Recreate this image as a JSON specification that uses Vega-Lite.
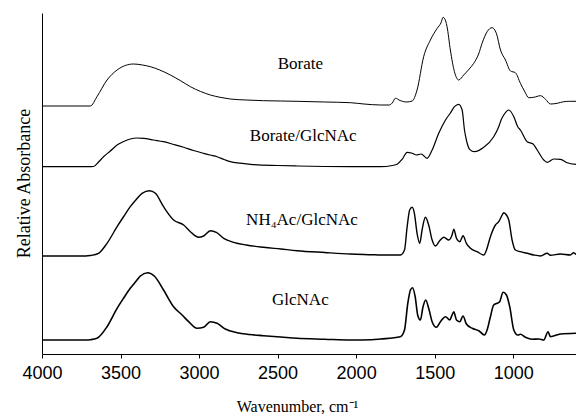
{
  "$schema": "https://vega.github.io/schema/vega-lite/v6.json",
  "width": 534,
  "height": 341,
  "autosize": {"type": "none"},
  "padding": {"left": 42, "top": 13, "right": 0, "bottom": 60},
  "background": "white",
  "config": {"view": {"stroke": null}},
  "datasets": {
    "spectra": [
      {"s":"Borate","wn":4000,"a":248},{"s":"Borate","wn":3720,"a":248},{"s":"Borate","wn":3692,"a":248},{"s":"Borate","wn":3650,"a":257.3},{"s":"Borate","wn":3586,"a":274},{"s":"Borate","wn":3522,"a":284},{"s":"Borate","wn":3470,"a":288.5},{"s":"Borate","wn":3417,"a":290},{"s":"Borate","wn":3360,"a":289},{"s":"Borate","wn":3310,"a":287.3},{"s":"Borate","wn":3250,"a":284},{"s":"Borate","wn":3183,"a":279},{"s":"Borate","wn":3120,"a":273.5},{"s":"Borate","wn":3055,"a":267.3},{"s":"Borate","wn":2990,"a":262.5},{"s":"Borate","wn":2928,"a":259},{"s":"Borate","wn":2860,"a":256.5},{"s":"Borate","wn":2801,"a":255},{"s":"Borate","wn":2700,"a":254},{"s":"Borate","wn":2589,"a":253.3},{"s":"Borate","wn":2480,"a":253},{"s":"Borate","wn":2376,"a":252.7},{"s":"Borate","wn":2200,"a":252},{"s":"Borate","wn":2036,"a":251.3},{"s":"Borate","wn":1950,"a":250},{"s":"Borate","wn":1845,"a":249},{"s":"Borate","wn":1790,"a":249},{"s":"Borate","wn":1770,"a":251},{"s":"Borate","wn":1750,"a":255.7},{"s":"Borate","wn":1720,"a":253.5},{"s":"Borate","wn":1680,"a":252},{"s":"Borate","wn":1643,"a":253},{"s":"Borate","wn":1612,"a":264},{"s":"Borate","wn":1570,"a":297.3},{"s":"Borate","wn":1527,"a":314},{"s":"Borate","wn":1484,"a":325.7},{"s":"Borate","wn":1460,"a":331},{"s":"Borate","wn":1446,"a":336.7},{"s":"Borate","wn":1430,"a":333},{"s":"Borate","wn":1421,"a":327.3},{"s":"Borate","wn":1400,"a":304},{"s":"Borate","wn":1374,"a":282.3},{"s":"Borate","wn":1347,"a":274},{"s":"Borate","wn":1315,"a":279},{"s":"Borate","wn":1280,"a":285},{"s":"Borate","wn":1251,"a":290.7},{"s":"Borate","wn":1220,"a":300},{"s":"Borate","wn":1198,"a":310.7},{"s":"Borate","wn":1166,"a":322.3},{"s":"Borate","wn":1134,"a":326.3},{"s":"Borate","wn":1107,"a":320.7},{"s":"Borate","wn":1081,"a":304},{"s":"Borate","wn":1049,"a":294},{"s":"Borate","wn":1017,"a":283},{"s":"Borate","wn":986,"a":281.3},{"s":"Borate","wn":954,"a":270.7},{"s":"Borate","wn":925,"a":262},{"s":"Borate","wn":901,"a":256.3},{"s":"Borate","wn":869,"a":256.7},{"s":"Borate","wn":826,"a":258.3},{"s":"Borate","wn":794,"a":254.7},{"s":"Borate","wn":763,"a":250},{"s":"Borate","wn":720,"a":250.7},{"s":"Borate","wn":678,"a":252.3},{"s":"Borate","wn":640,"a":252.7},{"s":"Borate","wn":600,"a":252.7},

      {"s":"Borate/GlcNAc","wn":4000,"a":187.3},{"s":"Borate/GlcNAc","wn":3700,"a":187.3},{"s":"Borate/GlcNAc","wn":3671,"a":187.5},{"s":"Borate/GlcNAc","wn":3640,"a":192},{"s":"Borate/GlcNAc","wn":3608,"a":197.3},{"s":"Borate/GlcNAc","wn":3565,"a":203},{"s":"Borate/GlcNAc","wn":3522,"a":209},{"s":"Borate/GlcNAc","wn":3480,"a":212.5},{"s":"Borate/GlcNAc","wn":3438,"a":215},{"s":"Borate/GlcNAc","wn":3395,"a":216},{"s":"Borate/GlcNAc","wn":3353,"a":215.7},{"s":"Borate/GlcNAc","wn":3290,"a":214},{"s":"Borate/GlcNAc","wn":3226,"a":212.3},{"s":"Borate/GlcNAc","wn":3160,"a":209.5},{"s":"Borate/GlcNAc","wn":3098,"a":206.7},{"s":"Borate/GlcNAc","wn":3035,"a":203.5},{"s":"Borate/GlcNAc","wn":2971,"a":200.7},{"s":"Borate/GlcNAc","wn":2930,"a":199},{"s":"Borate/GlcNAc","wn":2885,"a":197.3},{"s":"Borate/GlcNAc","wn":2840,"a":194.5},{"s":"Borate/GlcNAc","wn":2801,"a":192.3},{"s":"Borate/GlcNAc","wn":2740,"a":190.8},{"s":"Borate/GlcNAc","wn":2673,"a":189.7},{"s":"Borate/GlcNAc","wn":2500,"a":188.5},{"s":"Borate/GlcNAc","wn":2376,"a":188},{"s":"Borate/GlcNAc","wn":2200,"a":187.5},{"s":"Borate/GlcNAc","wn":2036,"a":187.3},{"s":"Borate/GlcNAc","wn":1900,"a":187.3},{"s":"Borate/GlcNAc","wn":1845,"a":187.3},{"s":"Borate/GlcNAc","wn":1770,"a":188.5},{"s":"Borate/GlcNAc","wn":1739,"a":189.7},{"s":"Borate/GlcNAc","wn":1707,"a":194.7},{"s":"Borate/GlcNAc","wn":1675,"a":201.7},{"s":"Borate/GlcNAc","wn":1643,"a":200.7},{"s":"Borate/GlcNAc","wn":1616,"a":199},{"s":"Borate/GlcNAc","wn":1586,"a":200},{"s":"Borate/GlcNAc","wn":1548,"a":195.7},{"s":"Borate/GlcNAc","wn":1516,"a":204},{"s":"Borate/GlcNAc","wn":1474,"a":220.7},{"s":"Borate/GlcNAc","wn":1431,"a":234},{"s":"Borate/GlcNAc","wn":1400,"a":241},{"s":"Borate/GlcNAc","wn":1374,"a":247.3},{"s":"Borate/GlcNAc","wn":1347,"a":249.7},{"s":"Borate/GlcNAc","wn":1325,"a":244},{"s":"Borate/GlcNAc","wn":1310,"a":224},{"s":"Borate/GlcNAc","wn":1298,"a":214},{"s":"Borate/GlcNAc","wn":1277,"a":204.7},{"s":"Borate/GlcNAc","wn":1247,"a":202.3},{"s":"Borate/GlcNAc","wn":1187,"a":206.7},{"s":"Borate/GlcNAc","wn":1124,"a":217.3},{"s":"Borate/GlcNAc","wn":1092,"a":227.3},{"s":"Borate/GlcNAc","wn":1077,"a":234},{"s":"Borate/GlcNAc","wn":1060,"a":239},{"s":"Borate/GlcNAc","wn":1028,"a":244},{"s":"Borate/GlcNAc","wn":996,"a":237.3},{"s":"Borate/GlcNAc","wn":971,"a":227.3},{"s":"Borate/GlcNAc","wn":954,"a":224},{"s":"Borate/GlcNAc","wn":911,"a":212.3},{"s":"Borate/GlcNAc","wn":873,"a":210},{"s":"Borate/GlcNAc","wn":847,"a":204},{"s":"Borate/GlcNAc","wn":805,"a":194},{"s":"Borate/GlcNAc","wn":784,"a":191.7},{"s":"Borate/GlcNAc","wn":742,"a":195},{"s":"Borate/GlcNAc","wn":699,"a":194.7},{"s":"Borate/GlcNAc","wn":656,"a":191.3},{"s":"Borate/GlcNAc","wn":600,"a":189.7},

      {"s":"NH4Ac/GlcNAc","wn":4000,"a":98},{"s":"NH4Ac/GlcNAc","wn":3720,"a":98},{"s":"NH4Ac/GlcNAc","wn":3692,"a":98.5},{"s":"NH4Ac/GlcNAc","wn":3640,"a":100.7},{"s":"NH4Ac/GlcNAc","wn":3586,"a":110.7},{"s":"NH4Ac/GlcNAc","wn":3522,"a":127.3},{"s":"NH4Ac/GlcNAc","wn":3480,"a":137.5},{"s":"NH4Ac/GlcNAc","wn":3438,"a":147.3},{"s":"NH4Ac/GlcNAc","wn":3400,"a":154.5},{"s":"NH4Ac/GlcNAc","wn":3363,"a":160.7},{"s":"NH4Ac/GlcNAc","wn":3315,"a":163.3},{"s":"NH4Ac/GlcNAc","wn":3278,"a":160.7},{"s":"NH4Ac/GlcNAc","wn":3226,"a":147.3},{"s":"NH4Ac/GlcNAc","wn":3162,"a":134},{"s":"NH4Ac/GlcNAc","wn":3098,"a":129},{"s":"NH4Ac/GlcNAc","wn":3055,"a":122.3},{"s":"NH4Ac/GlcNAc","wn":3003,"a":116.7},{"s":"NH4Ac/GlcNAc","wn":2971,"a":118},{"s":"NH4Ac/GlcNAc","wn":2928,"a":123.3},{"s":"NH4Ac/GlcNAc","wn":2890,"a":121.7},{"s":"NH4Ac/GlcNAc","wn":2843,"a":115.7},{"s":"NH4Ac/GlcNAc","wn":2780,"a":111.7},{"s":"NH4Ac/GlcNAc","wn":2700,"a":109},{"s":"NH4Ac/GlcNAc","wn":2589,"a":106.7},{"s":"NH4Ac/GlcNAc","wn":2480,"a":105},{"s":"NH4Ac/GlcNAc","wn":2376,"a":103.3},{"s":"NH4Ac/GlcNAc","wn":2200,"a":101.5},{"s":"NH4Ac/GlcNAc","wn":2036,"a":100},{"s":"NH4Ac/GlcNAc","wn":1900,"a":99.3},{"s":"NH4Ac/GlcNAc","wn":1845,"a":99},{"s":"NH4Ac/GlcNAc","wn":1718,"a":99},{"s":"NH4Ac/GlcNAc","wn":1692,"a":104},{"s":"NH4Ac/GlcNAc","wn":1675,"a":127.3},{"s":"NH4Ac/GlcNAc","wn":1659,"a":144},{"s":"NH4Ac/GlcNAc","wn":1643,"a":146.7},{"s":"NH4Ac/GlcNAc","wn":1629,"a":140.7},{"s":"NH4Ac/GlcNAc","wn":1612,"a":120.7},{"s":"NH4Ac/GlcNAc","wn":1595,"a":110.7},{"s":"NH4Ac/GlcNAc","wn":1580,"a":124},{"s":"NH4Ac/GlcNAc","wn":1559,"a":136.7},{"s":"NH4Ac/GlcNAc","wn":1538,"a":129},{"s":"NH4Ac/GlcNAc","wn":1516,"a":114},{"s":"NH4Ac/GlcNAc","wn":1495,"a":108},{"s":"NH4Ac/GlcNAc","wn":1468,"a":113.3},{"s":"NH4Ac/GlcNAc","wn":1442,"a":116.7},{"s":"NH4Ac/GlcNAc","wn":1410,"a":114},{"s":"NH4Ac/GlcNAc","wn":1389,"a":119},{"s":"NH4Ac/GlcNAc","wn":1378,"a":124.7},{"s":"NH4Ac/GlcNAc","wn":1361,"a":115.7},{"s":"NH4Ac/GlcNAc","wn":1340,"a":112.3},{"s":"NH4Ac/GlcNAc","wn":1319,"a":118.3},{"s":"NH4Ac/GlcNAc","wn":1298,"a":110.7},{"s":"NH4Ac/GlcNAc","wn":1272,"a":105.7},{"s":"NH4Ac/GlcNAc","wn":1230,"a":102.3},{"s":"NH4Ac/GlcNAc","wn":1187,"a":99},{"s":"NH4Ac/GlcNAc","wn":1170,"a":104},{"s":"NH4Ac/GlcNAc","wn":1145,"a":117.3},{"s":"NH4Ac/GlcNAc","wn":1113,"a":129},{"s":"NH4Ac/GlcNAc","wn":1092,"a":132.3},{"s":"NH4Ac/GlcNAc","wn":1070,"a":139},{"s":"NH4Ac/GlcNAc","wn":1060,"a":141.3},{"s":"NH4Ac/GlcNAc","wn":1043,"a":139},{"s":"NH4Ac/GlcNAc","wn":1028,"a":134},{"s":"NH4Ac/GlcNAc","wn":1007,"a":114},{"s":"NH4Ac/GlcNAc","wn":986,"a":104},{"s":"NH4Ac/GlcNAc","wn":954,"a":102.3},{"s":"NH4Ac/GlcNAc","wn":911,"a":100.7},{"s":"NH4Ac/GlcNAc","wn":869,"a":99},{"s":"NH4Ac/GlcNAc","wn":826,"a":98},{"s":"NH4Ac/GlcNAc","wn":784,"a":100.7},{"s":"NH4Ac/GlcNAc","wn":763,"a":98.7},{"s":"NH4Ac/GlcNAc","wn":699,"a":100},{"s":"NH4Ac/GlcNAc","wn":636,"a":99},{"s":"NH4Ac/GlcNAc","wn":614,"a":101.3},{"s":"NH4Ac/GlcNAc","wn":600,"a":99.3},

      {"s":"GlcNAc","wn":4000,"a":14},{"s":"GlcNAc","wn":3720,"a":14},{"s":"GlcNAc","wn":3692,"a":14.3},{"s":"GlcNAc","wn":3650,"a":15.7},{"s":"GlcNAc","wn":3586,"a":27.3},{"s":"GlcNAc","wn":3522,"a":45.7},{"s":"GlcNAc","wn":3480,"a":56},{"s":"GlcNAc","wn":3438,"a":65.7},{"s":"GlcNAc","wn":3400,"a":73},{"s":"GlcNAc","wn":3374,"a":78},{"s":"GlcNAc","wn":3327,"a":81.3},{"s":"GlcNAc","wn":3285,"a":78},{"s":"GlcNAc","wn":3226,"a":64},{"s":"GlcNAc","wn":3162,"a":47.3},{"s":"GlcNAc","wn":3108,"a":39},{"s":"GlcNAc","wn":3066,"a":32.3},{"s":"GlcNAc","wn":3013,"a":25.7},{"s":"GlcNAc","wn":2971,"a":26.7},{"s":"GlcNAc","wn":2928,"a":32.3},{"s":"GlcNAc","wn":2885,"a":30.7},{"s":"GlcNAc","wn":2833,"a":25},{"s":"GlcNAc","wn":2758,"a":21.3},{"s":"GlcNAc","wn":2680,"a":19.5},{"s":"GlcNAc","wn":2589,"a":18.3},{"s":"GlcNAc","wn":2480,"a":17},{"s":"GlcNAc","wn":2376,"a":15.7},{"s":"GlcNAc","wn":2200,"a":14.8},{"s":"GlcNAc","wn":2036,"a":14},{"s":"GlcNAc","wn":1900,"a":14.3},{"s":"GlcNAc","wn":1845,"a":15},{"s":"GlcNAc","wn":1718,"a":17.3},{"s":"GlcNAc","wn":1692,"a":24},{"s":"GlcNAc","wn":1671,"a":50.7},{"s":"GlcNAc","wn":1654,"a":64},{"s":"GlcNAc","wn":1641,"a":66.3},{"s":"GlcNAc","wn":1624,"a":57.3},{"s":"GlcNAc","wn":1608,"a":39},{"s":"GlcNAc","wn":1591,"a":34},{"s":"GlcNAc","wn":1574,"a":47.3},{"s":"GlcNAc","wn":1557,"a":54},{"s":"GlcNAc","wn":1538,"a":45.7},{"s":"GlcNAc","wn":1516,"a":32.3},{"s":"GlcNAc","wn":1489,"a":26.7},{"s":"GlcNAc","wn":1463,"a":32.3},{"s":"GlcNAc","wn":1431,"a":37.3},{"s":"GlcNAc","wn":1404,"a":34},{"s":"GlcNAc","wn":1389,"a":39},{"s":"GlcNAc","wn":1378,"a":42.3},{"s":"GlcNAc","wn":1361,"a":34},{"s":"GlcNAc","wn":1340,"a":32.3},{"s":"GlcNAc","wn":1319,"a":38},{"s":"GlcNAc","wn":1298,"a":30},{"s":"GlcNAc","wn":1261,"a":25.7},{"s":"GlcNAc","wn":1219,"a":23.3},{"s":"GlcNAc","wn":1183,"a":19},{"s":"GlcNAc","wn":1166,"a":24},{"s":"GlcNAc","wn":1145,"a":37.3},{"s":"GlcNAc","wn":1124,"a":49},{"s":"GlcNAc","wn":1102,"a":50.7},{"s":"GlcNAc","wn":1086,"a":52.3},{"s":"GlcNAc","wn":1064,"a":61.7},{"s":"GlcNAc","wn":1043,"a":59},{"s":"GlcNAc","wn":1022,"a":47.3},{"s":"GlcNAc","wn":996,"a":24},{"s":"GlcNAc","wn":971,"a":19},{"s":"GlcNAc","wn":954,"a":19.7},{"s":"GlcNAc","wn":922,"a":16.7},{"s":"GlcNAc","wn":879,"a":14.7},{"s":"GlcNAc","wn":837,"a":15},{"s":"GlcNAc","wn":805,"a":14},{"s":"GlcNAc","wn":778,"a":22.3},{"s":"GlcNAc","wn":763,"a":17.3},{"s":"GlcNAc","wn":699,"a":20},{"s":"GlcNAc","wn":600,"a":20.7}
    ],
    "labels": [
      {"label": "Borate", "wn": 2355, "a": 290},
      {"label": "Borate/GlcNAc", "wn": 2337, "a": 218},
      {"label": "NH₄Ac/GlcNAc", "wn": 2345, "a": 134},
      {"label": "GlcNAc", "wn": 2355, "a": 54}
    ]
  },
  "layer": [
    {
      "data": {"name": "spectra"},
      "mark": {"type": "line", "color": "black", "interpolate": "monotone", "clip": true},
      "encoding": {
        "x": {
          "field": "wn", "type": "quantitative",
          "scale": {"domain": [600, 4000], "reverse": true, "nice": false, "zero": false},
          "axis": {
            "values": [4000, 3500, 3000, 2500, 2000, 1500, 1000], "format": "d",
            "grid": false, "tickSize": 4, "tickColor": "black", "domainColor": "black",
            "labelFont": "Liberation Sans", "labelFontSize": 18, "labelColor": "black", "labelPadding": 6,
            "labelFlush": false, "labelOverlap": false,
            "title": "Wavenumber, cm⁻¹", "titleFont": "Liberation Serif", "titleFontSize": 16,
            "titleFontWeight": "normal", "titleColor": "black",
            "titleX": 255, "titleY": 52, "titleBaseline": "middle"
          }
        },
        "y": {
          "field": "a", "type": "quantitative",
          "scale": {"domain": [0, 341], "nice": false, "zero": false},
          "axis": {
            "labels": false, "ticks": false, "grid": false, "domainColor": "black",
            "title": "Relative Absorbance", "titleFont": "Liberation Serif", "titleFontSize": 18,
            "titleFontWeight": "normal", "titleColor": "black",
            "titleX": -18, "titleY": 170, "titleAngle": -90, "titleAlign": "center", "titleBaseline": "middle"
          }
        },
        "strokeWidth": {
          "field": "s", "type": "nominal",
          "scale": {"domain": ["Borate", "Borate/GlcNAc", "NH4Ac/GlcNAc", "GlcNAc"], "range": [1, 1.6, 1.6, 1.6]},
          "legend": null
        }
      }
    },
    {
      "data": {"name": "labels"},
      "mark": {"type": "text", "font": "Liberation Serif", "fontSize": 17, "color": "black", "align": "center", "baseline": "middle"},
      "encoding": {
        "x": {"field": "wn", "type": "quantitative"},
        "y": {"field": "a", "type": "quantitative"},
        "text": {"field": "label"}
      }
    }
  ]
}
